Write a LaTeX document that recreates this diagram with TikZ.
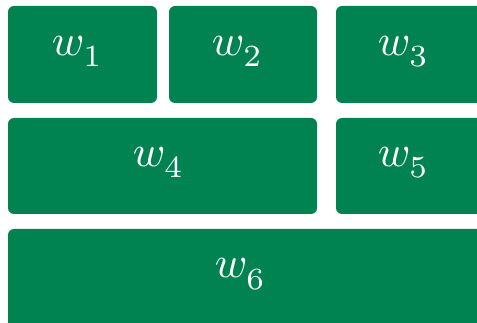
\documentclass[tikz,border=0pt]{standalone}
\definecolor{boxgreen}{RGB}{0,131,81}
\newcommand\wsub[1]{$w_{\lower1pt\hbox{$\scriptstyle #1$}}$}
\tikzset{
  tile/.style={fill=boxgreen, draw=none, rounded corners=6pt, inner sep=0pt, outer sep=0pt},
  lbl/.style={text=white, inner sep=0pt, scale=4.4, anchor=base west}
}
\begin{document}
\begin{tikzpicture}[x=1pt,y=-1pt]
\useasboundingbox (0,0) rectangle (477,323);
\clip (0,0) rectangle (477,323);
\node[tile, minimum width=149pt, minimum height=97pt] (b1) at (82.5,54.5) {};
\node[tile, minimum width=148pt, minimum height=97pt] (b2) at (243,54.5) {};
\node[tile, minimum width=154pt, minimum height=97pt] (b3) at (413,54.5) {};
\node[tile, minimum width=309pt, minimum height=96pt] (b4) at (162.5,166) {};
\node[tile, minimum width=154pt, minimum height=96pt] (b5) at (413,166) {};
\node[tile, minimum width=482pt, minimum height=106pt] (b6) at (249,282) {};
\node[lbl] (t1) at (51,56) {\wsub{1}};
\node[lbl] (t2) at (211,56) {\wsub{2}};
\node[lbl] (t3) at (377,56) {\wsub{3}};
\node[lbl] (t4) at (132,167) {\wsub{4}};
\node[lbl] (t5) at (377,167) {\wsub{5}};
\node[lbl] (t6) at (214,278) {\wsub{6}};
\end{tikzpicture}
\end{document}
